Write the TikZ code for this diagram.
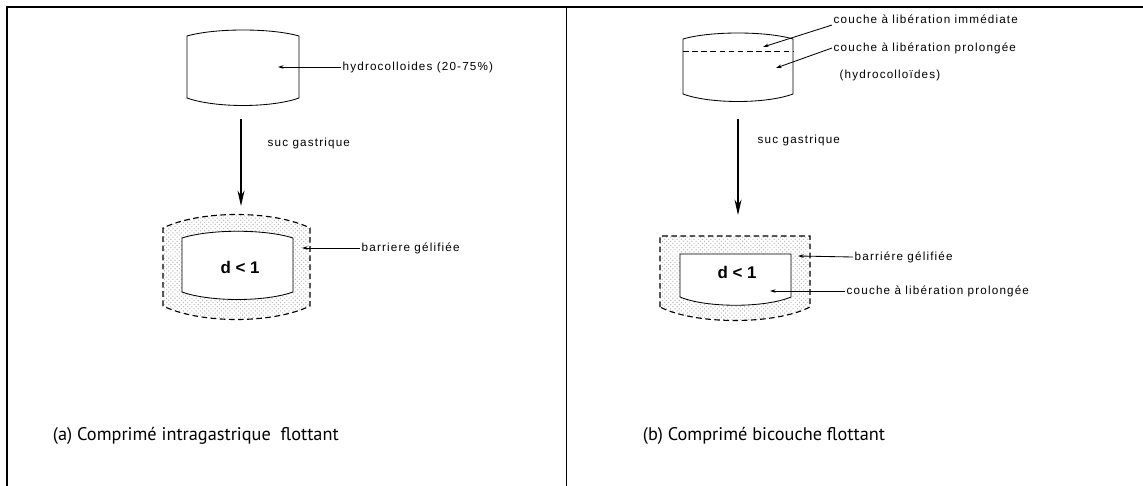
\documentclass[tikz,border=0pt]{standalone}
\usepackage{fontspec}
\setmainfont{Liberation Sans}
\newfontfamily\capfont{PT Sans}
\newfontfamily\lblfont[LetterSpace=10]{Liberation Sans}
\usetikzlibrary{arrows.meta, patterns, positioning}

\begin{document}
\begin{tikzpicture}[x=0.025cm, y=-0.025cm,
    lbl/.style={font=\lblfont\fontsize{8.3}{9}\selectfont, anchor=west, inner sep=1pt},
    ptr/.style={-{Stealth[length=4pt, width=2.5pt]}, semithick},
    flow/.style={-{Stealth[length=11pt, width=5pt]}, thick},
    tab/.style={semithick},
    gelline/.style={thick, dash pattern=on 4pt off 2.5pt},
    gelfill/.style={pattern=crosshatch dots, pattern color=black!28, even odd rule},
    dens/.style={font=\bfseries\fontsize{12}{14}\selectfont},
    captext/.style={font=\capfont\fontsize{13}{15}\selectfont, anchor=west}
  ]
  \useasboundingbox (0,0) rectangle (1143,486);

  % frame
  \draw[thick] (7,486) -- (7,7) -- (1143,7);
  \draw (566,7) -- (566,486);

  % (a) tablet before
  \draw[tab] (187,98) -- (187,36) .. controls (215,28) and (271,28) .. (299,36)
    -- (299,98) .. controls (271,108) and (215,108) .. (187,98) -- cycle;
  \coordinate (tabA) at (278,67);
  \node[lbl] (hydA) at (341,67) {hydrocolloides (20-75\%)};
  \draw[ptr] (hydA.west) -- (tabA);

  \coordinate (topA) at (241,119);
  \coordinate (gelA) at (241,206);
  \draw[flow] (topA) -- (gelA);
  \node[lbl] (sucA) at (266,143) {suc gastrique};

  % (a) tablet after, with gel layer
  \path[gelfill]
    (163,306) -- (163,228) .. controls (200,210) and (273,210) .. (310,228)
    -- (310,306) .. controls (273,324) and (200,324) .. (163,306) -- cycle
    (182,292) -- (182,238) .. controls (210,229) and (265,229) .. (293,238)
    -- (293,292) .. controls (265,302) and (210,302) .. (182,292) -- cycle;
  \draw[gelline] (163,306) -- (163,228) .. controls (200,210) and (273,210) .. (310,228)
    -- (310,306) .. controls (273,324) and (200,324) .. (163,306) -- cycle;
  \draw[tab] (182,292) -- (182,238) .. controls (210,229) and (265,229) .. (293,238)
    -- (293,292) .. controls (265,302) and (210,302) .. (182,292) -- cycle;
  \node[dens] (densA) at (240,267) {d < 1};
  \coordinate (edgeA) at (302,248);
  \node[lbl] (barA) at (360,248) {barriere gélifiée};
  \draw[ptr] (barA.west) -- (edgeA);

  \node[captext] (capA) at (48,436) {(a) Comprimé intragastrique\ \ flottant};

  % (b) bilayer tablet before
  \draw[tab] (683,94) -- (683,39) .. controls (710,31) and (766,31) .. (793,39)
    -- (793,94) .. controls (766,104) and (710,104) .. (683,94) -- cycle;
  \draw[gelline, semithick] (683,51) -- (793,51);
  \coordinate (layImm) at (763,47);
  \coordinate (layProl) at (776,68);
  \node[lbl] (immB) at (832,19) {couche à libération immédiate};
  \node[lbl] (prolB) at (832,48) {couche à libération prolongée};
  \node[lbl] (hydB) at (838,75) {(hydrocolloïdes)};
  \draw[ptr] (immB.south west) -- (layImm);
  \draw[ptr] (prolB.west) -- (layProl);

  \coordinate (topB) at (738,119);
  \coordinate (gelB) at (738,215);
  \draw[flow] (topB) -- (gelB);
  \node[lbl] (sucB) at (756,140) {suc gastrique};

  % (b) tablet after, with gel layer
  \path[gelfill]
    (660,307) -- (660,236) -- (810,236) -- (810,307)
      .. controls (775,325) and (695,325) .. (660,307) -- cycle
    (680,297) -- (680,254) -- (791,254) -- (791,297)
      .. controls (765,308) and (706,308) .. (680,297) -- cycle;
  \draw[gelline] (660,307) -- (660,236) -- (810,236) -- (810,307)
      .. controls (775,325) and (695,325) .. (660,307) -- cycle;
  \draw[tab] (680,297) -- (680,254) -- (791,254) -- (791,297)
      .. controls (765,308) and (706,308) .. (680,297) -- cycle;
  \node[dens] (densB) at (737,272) {d < 1};
  \coordinate (edgeB) at (798,256);
  \coordinate (coreB) at (770,291);
  \node[lbl] (barB) at (853,257) {barriére gélifiée};
  \node[lbl] (coucheB) at (845,291) {couche à libération prolongée};
  \draw[ptr] (barB.west) -- (edgeB);
  \draw[ptr] (coucheB.west) -- (coreB);

  \node[captext] (capB) at (638,436) {(b) Comprimé bicouche flottant};
\end{tikzpicture}
\end{document}
